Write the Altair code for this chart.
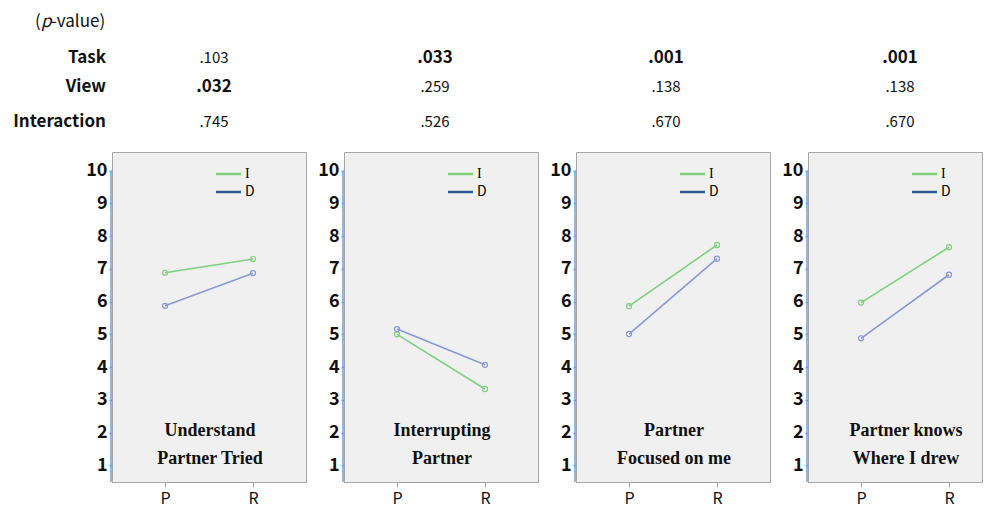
import altair as alt
import pandas as pd

# ---- data ----
panel_titles = [
    ["Understand", "Partner Tried"],
    ["Interrupting", "Partner"],
    ["Partner", "Focused on me"],
    ["Partner knows", "Where I drew"],
]
tasks = ["P", "R"]
views = ["I", "D"]
i_means = [[6.88, 7.30], [5.00, 3.33], [5.86, 7.73], [5.97, 7.66]]
d_means = [[5.87, 6.87], [5.16, 4.07], [5.01, 7.31], [4.88, 6.82]]
row_names = ["Task", "View", "Interaction"]
p_task = [".103", ".033", ".001", ".001"]
p_view = [".032", ".259", ".138", ".138"]
p_inter = [".745", ".526", ".670", ".670"]
y_ticks = [1, 2, 3, 4, 5, 6, 7, 8, 9, 10]

# ---- style ----
SANS = "Noto Sans CJK KR"
SERIF = "Liberation Serif"
GREEN = "#7fd07f"
LBLUE = "#8a98d8"
LEG_BLUE = "#2d5b8e"
AXBLUE = "#6f9fd8"
H = 330
WIDTHS = [194, 194, 194, 174]
P_X = [102, 91, 90, 92]
ROW_Y = [-94, -65, -30]

one = pd.DataFrame({"v": [0]})


def label(text, x, y, size=14, weight="normal", font=SANS, align="center",
          baseline="middle", style="normal", color="#111"):
    return alt.Chart(one).mark_text(
        fontSize=size, fontWeight=weight, font=font, align=align,
        baseline=baseline, fontStyle=style, color=color
    ).encode(x=alt.value(x), y=alt.value(y), text=alt.value(text))


y_scale = alt.Scale(domain=[0.49, 10.57], nice=False, zero=False)
x_scale = alt.Scale(type="point", domain=tasks, range=[53, 141], padding=0)
y_axis = alt.Axis(
    title=None, values=y_ticks, labelFontSize=18, labelFontWeight="bold",
    labelFont=SANS, labelColor="#111", labelOverlap=False, labelBound=False,
    domain=False, tickColor=AXBLUE, tickSize=3, tickWidth=1.5, labelPadding=2,
    grid=False)


def make_panel(k):
    df = pd.DataFrame({
        "Task": tasks * 2,
        "View": ["I", "I", "D", "D"],
        "Score": i_means[k] + d_means[k],
    })
    lines = alt.Chart(df).mark_line(
        strokeWidth=1.6,
        point=alt.OverlayMarkDef(filled=False, size=26, strokeWidth=1.2),
    ).encode(
        x=alt.X("Task:N", scale=x_scale, sort=tasks, axis=alt.Axis(
            title=None, labelAngle=0, labelFontSize=16, labelFont=SANS,
            labelColor="#111", domainColor="#a0a0a0", tickColor="#a0a0a0",
            tickSize=5, labelPadding=3, grid=False)),
        y=alt.Y("Score:Q", scale=y_scale, axis=y_axis),
        color=alt.Color("View:N", scale=alt.Scale(domain=views, range=[GREEN, LBLUE]),
                        legend=None),
    )
    top_df = pd.DataFrame({"Score": [max(y_ticks)]})
    axis_rule = alt.Chart(top_df).mark_rule(color=AXBLUE, strokeWidth=1.5).encode(
        x=alt.value(-1), y=alt.Y("Score:Q", scale=y_scale, axis=y_axis), y2=alt.value(H)
    )
    layers = [axis_rule, lines]
    # in-panel legend
    for j, (v, c, f) in enumerate(zip(views, [GREEN, LEG_BLUE], [SERIF, SANS])):
        ly = 22 + 18 * j
        layers.append(alt.Chart(one).mark_rule(color=c, strokeWidth=2.5).encode(
            x=alt.value(104), x2=alt.value(129), y=alt.value(ly)))
        layers.append(label(v, 133, ly, size=14, align="left", color="#000", font=f))
    # panel title
    for j, t in enumerate(panel_titles[k]):
        layers.append(label(t, 98, 279 + 28 * j, size=18, weight="bold", font=SERIF))
    # p-values
    for j, plist in enumerate([p_task, p_view, p_inter]):
        p = plist[k]
        bold = float(p) < 0.05
        layers.append(label(p, P_X[k], ROW_Y[j], size=17 if bold else 15,
                            weight="bold" if bold else "normal"))
    if k == 0:
        for j, r in enumerate(row_names):
            layers.append(label(r, -6, ROW_Y[j], size=17, weight="bold", align="right"))
        layers.append(label("(", -77, -130, size=17, align="left"))
        layers.append(label("p", -71, -130, size=17, align="left", style="italic"))
        layers.append(label("-value)", -61, -130, size=17, align="left"))
    return alt.layer(*layers).properties(width=WIDTHS[k], height=H)


panels = [make_panel(k) for k in range(4)]

chart = alt.hconcat(*panels, spacing=38, bounds="flush").properties(
    padding={"left": 4, "top": 4, "right": 0, "bottom": 0},
    background="white",
).configure_view(
    fill="#f0f0f0", stroke="#a6a6a6", strokeWidth=1
).configure_axisY(labelOverlap=False)

chart.save("out.html", embed_options={"renderer": "svg", "actions": False})
